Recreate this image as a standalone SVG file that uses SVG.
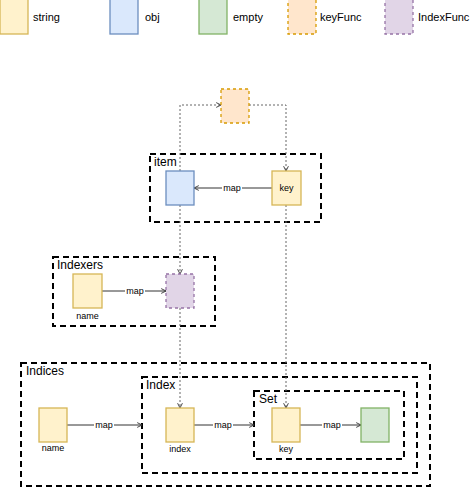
<svg xmlns="http://www.w3.org/2000/svg" width="474" height="487" viewBox="0 0 474 487">
<defs>
<marker id="open" viewBox="0 0 10 10" refX="9" refY="5" markerWidth="6" markerHeight="6" orient="auto" markerUnits="userSpaceOnUse">
<polyline points="1,1 9,5 1,9" fill="none" stroke="#333" stroke-width="1.5"/>
</marker>
</defs>
<style>
text{font-family:"Liberation Sans",Arial,Helvetica,sans-serif;fill:#000}
.lg{font-size:11px}
.cl{font-size:12px}
.sm{font-size:9px}
.str{fill:#fff2cc;stroke:#d6b656;stroke-width:1.3}
.obj{fill:#dae8fc;stroke:#6c8ebf;stroke-width:1.3}
.emp{fill:#d5e8d4;stroke:#82b366;stroke-width:1.3}
.kf{fill:#ffe6cc;stroke:#d79b00;stroke-width:1.3;stroke-dasharray:3 3}
.if{fill:#e1d5e7;stroke:#9673a6;stroke-width:1.3;stroke-dasharray:3 3}
.box{fill:none;stroke:#000;stroke-width:2;stroke-dasharray:6 4}
.solid{fill:none;stroke:#333;stroke-width:1;marker-end:url(#open)}
.dot{fill:none;stroke:#666;stroke-width:1;stroke-dasharray:2 2;marker-end:url(#open)}
.dotn{fill:none;stroke:#666;stroke-width:1;stroke-dasharray:2 2}
.lbl{fill:#fff}
</style>
<g id="legend">
<rect class="str" x="0" y="-2" width="28" height="36"/>
<text class="lg" x="33" y="21">string</text>
<rect class="obj" x="110" y="-2" width="28" height="36"/>
<text class="lg" x="145" y="21">obj</text>
<rect class="emp" x="199" y="-2" width="28" height="36"/>
<text class="lg" x="233" y="21">empty</text>
<rect class="kf" x="288" y="-2" width="28" height="36"/>
<text class="lg" x="320" y="21">keyFunc</text>
<rect class="if" x="385" y="-2" width="28" height="36"/>
<text class="lg" x="418" y="21">IndexFunc</text>
</g>
<g id="containers">
<g id="item"><rect class="box" x="150" y="154" width="171" height="68"/><text class="cl" x="154" y="166">item</text></g>
<g id="indexers"><rect class="box" x="53" y="257" width="162" height="69"/><text class="cl" x="57" y="269">Indexers</text></g>
<g id="indices"><rect class="box" x="21" y="363" width="409" height="123"/><text class="cl" x="26" y="375">Indices</text></g>
<g id="index"><rect class="box" x="142" y="377" width="275" height="96"/><text class="cl" x="146" y="389">Index</text></g>
<g id="set"><rect class="box" x="254" y="391" width="150" height="68"/><text class="cl" x="259" y="403">Set</text></g>
</g>
<g id="connectors">
<path class="dot" d="M180,171 V105 H221"/>
<path class="dot" d="M249,105 H286 V171"/>
<path class="dot" d="M180,205 V274"/>
<path class="dot" d="M180,308 V408"/>
<path class="dot" d="M286,205 V408"/>
<path class="solid" d="M272,188 H194"/>
<rect class="lbl" x="222" y="182" width="20" height="11"/>
<text class="sm" x="232" y="191" text-anchor="middle">map</text>
<path class="solid" d="M102,291 H166"/>
<rect class="lbl" x="125" y="285" width="20" height="11"/>
<text class="sm" x="135" y="294" text-anchor="middle">map</text>
<path class="solid" d="M67,425 H142"/>
<rect class="lbl" x="94" y="419" width="20" height="11"/>
<text class="sm" x="104" y="428" text-anchor="middle">map</text>
<path class="solid" d="M194,425 H254"/>
<rect class="lbl" x="213" y="419" width="20" height="11"/>
<text class="sm" x="223" y="428" text-anchor="middle">map</text>
<path class="solid" d="M300,425 H361"/>
<rect class="lbl" x="322" y="419" width="20" height="11"/>
<text class="sm" x="332" y="428" text-anchor="middle">map</text>
</g>
<g id="keyFunc"><rect class="kf" x="221" y="89" width="28" height="34"/></g>
<g id="itemObj"><rect class="obj" x="166" y="171" width="28" height="34"/></g>
<g id="itemKey"><rect class="str" x="272" y="171" width="29" height="34"/><text class="sm" x="286.5" y="191" text-anchor="middle">key</text></g>
<g id="indexerName"><rect class="str" x="73" y="274" width="29" height="34"/><text class="sm" x="87.5" y="319" text-anchor="middle">name</text></g>
<g id="indexFunc"><rect class="if" x="166" y="274" width="28" height="34"/></g>
<g id="indicesName"><rect class="str" x="39" y="408" width="28" height="34"/><text class="sm" x="53" y="451" text-anchor="middle">name</text></g>
<g id="indexNode"><rect class="str" x="166" y="408" width="28" height="34"/><text class="sm" x="180" y="452" text-anchor="middle">index</text></g>
<g id="setKey"><rect class="str" x="272" y="408" width="28" height="34"/><text class="sm" x="286" y="452" text-anchor="middle">key</text></g>
<g id="emptyNode"><rect class="emp" x="361" y="408" width="28" height="34"/></g>
</svg>
